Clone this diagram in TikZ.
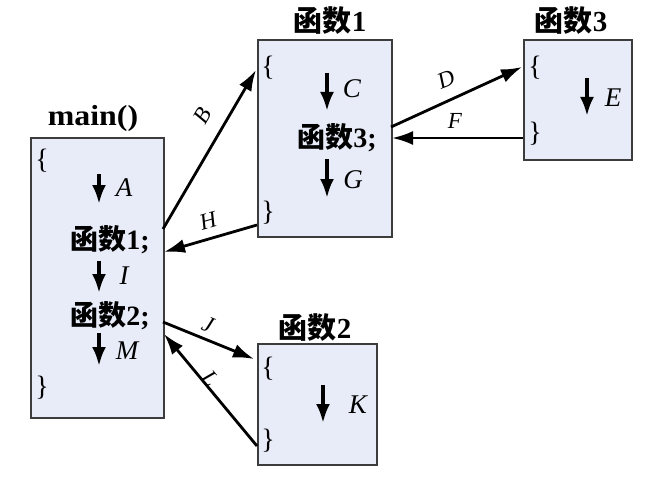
\documentclass[tikz,border=0pt]{standalone}
\usepackage{fontspec}
\setmainfont{Liberation Serif}
\newfontfamily\cjk{Noto Sans CJK SC}
\usetikzlibrary{arrows.meta}
\definecolor{boxfill}{RGB}{232,236,248}
\definecolor{boxline}{RGB}{60,60,60}
\tikzset{
  fbox/.style={draw=boxline, line width=1.8pt, fill=boxfill, anchor=north west, inner sep=0pt},
  ttl/.style={font=\fontsize{29}{32}\selectfont\bfseries\cjk, inner sep=0pt},
  code/.style={font=\fontsize{28}{32}\selectfont\bfseries\cjk, inner sep=0pt},
  brc/.style={font=\fontsize{28}{30}\selectfont, inner sep=0pt},
  lab/.style={font=\fontsize{27}{30}\selectfont\itshape, inner sep=0pt},
  clab/.style={font=\fontsize{23}{26}\selectfont\itshape, inner sep=0pt},
  flow/.style={line width=3.6pt, -{Latex[length=19pt,width=14pt]}},
  conn/.style={line width=2.8pt, -{Latex[length=21pt,width=14pt]}},
}
\begin{document}
\begin{tikzpicture}[x=1pt,y=-1pt]
\useasboundingbox (0,0) rectangle (662,495);
% boxes
\node[fbox, minimum width=133pt, minimum height=280pt] (mainbox) at (30,137) {};
\node[fbox, minimum width=134pt, minimum height=197pt] (f1box) at (257,39) {};
\node[fbox, minimum width=108pt, minimum height=120pt] (f3box) at (523,39) {};
\node[fbox, minimum width=119pt, minimum height=121pt] (f2box) at (257,343) {};
% titles
\node[font=\fontsize{29}{32}\selectfont\bfseries, inner sep=0pt, xscale=1.1, transform shape] (tmain) at (93,119) {main()};
\node[ttl] (tf1) at (330,21) {函数\textrm{1}};
\node[ttl] (tf3) at (571,21) {函数\textrm{3}};
\node[ttl] (tf2) at (315,328) {函数\textrm{2}};
% main contents
\node[brc] (mo) at (42,161) {\{};
\node[brc] (mc) at (42,388) {\}};
\coordinate (ma1) at (99,174); \coordinate (ma2) at (99,204);
\draw[flow] (ma1) -- (ma2);
\node[lab] (lA) at (124,188) {A};
\node[code] (c1) at (110,240) {函数\textrm{\bfseries 1;}};
\coordinate (mi1) at (99,261); \coordinate (mi2) at (99,293);
\draw[flow] (mi1) -- (mi2);
\node[lab] (lI) at (124,276) {I};
\node[code] (c2) at (110,316) {函数\textrm{\bfseries 2;}};
\coordinate (mm1) at (99,333); \coordinate (mm2) at (99,366);
\draw[flow] (mm1) -- (mm2);
\node[lab] (lM) at (127,351) {M};
% f1 contents
\node[brc] (f1o) at (268,68) {\{};
\node[brc] (f1c) at (268,213) {\}};
\coordinate (fc1) at (327,73); \coordinate (fc2) at (327,111);
\draw[flow] (fc1) -- (fc2);
\node[lab] (lC) at (352,89) {C};
\node[code] (c3) at (337,138) {函数\textrm{\bfseries 3;}};
\coordinate (fg1) at (327,159); \coordinate (fg2) at (327,198);
\draw[flow] (fg1) -- (fg2);
\node[lab] (lG) at (353,180) {G};
% f3 contents
\node[brc] (f3o) at (535,68) {\{};
\node[brc] (f3c) at (535,134) {\}};
\coordinate (fe1) at (587,78); \coordinate (fe2) at (587,116);
\draw[flow] (fe1) -- (fe2);
\node[lab] (lE) at (613,98) {E};
% f2 contents
\node[brc] (f2o) at (268,369) {\{};
\node[brc] (f2c) at (268,441) {\}};
\coordinate (fk1) at (323,385); \coordinate (fk2) at (323,423);
\draw[flow] (fk1) -- (fk2);
\node[lab] (lK) at (358,405) {K};
% connectors
\coordinate (pB0) at (163,229); \coordinate (pB1) at (256,70);
\draw[conn] (pB0) -- (pB1);
\node[clab, rotate=60] (lB) at (203,116) {B};
\coordinate (pH0) at (257,225); \coordinate (pH1) at (164,252);
\draw[conn] (pH0) -- (pH1);
\node[clab, rotate=16] (lH) at (208,221) {H};
\coordinate (pD0) at (391,127); \coordinate (pD1) at (522,67);
\draw[conn] (pD0) -- (pD1);
\node[clab, rotate=22] (lD) at (446,79) {D};
\coordinate (pF0) at (523,138); \coordinate (pF1) at (392,138);
\draw[conn] (pF0) -- (pF1);
\node[clab] (lF) at (455,121) {F};
\coordinate (pJ0) at (163,322); \coordinate (pJ1) at (254,359);
\draw[conn] (pJ0) -- (pJ1);
\node[clab, rotate=-22] (lJ) at (208,325) {J};
\coordinate (pL0) at (257,446); \coordinate (pL1) at (164,334);
\draw[conn] (pL0) -- (pL1);
\node[clab, rotate=-50] (lL) at (210,379) {L};
\end{tikzpicture}
\end{document}
